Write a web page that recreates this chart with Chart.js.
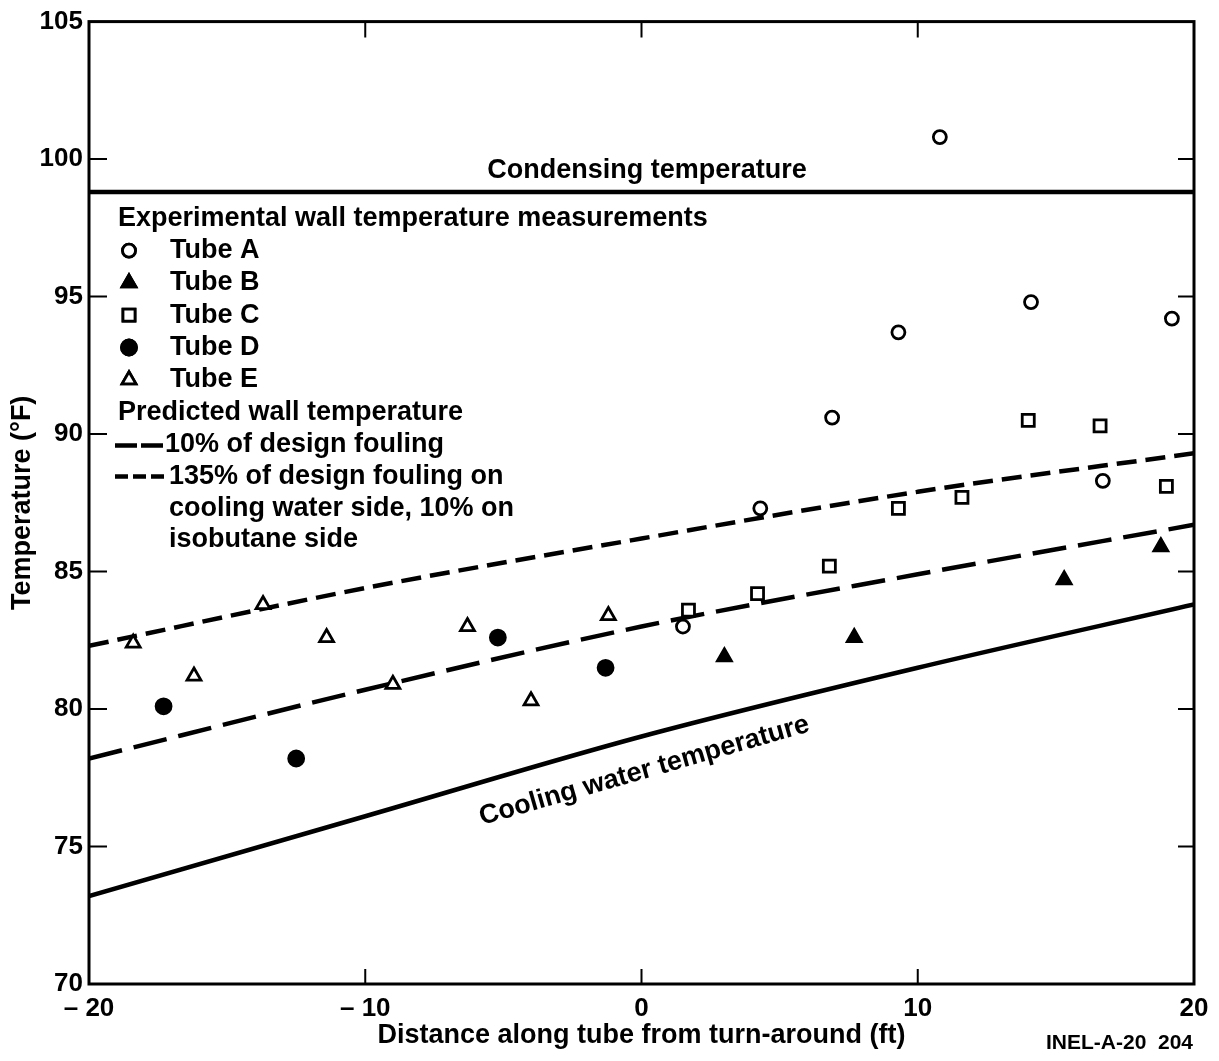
<!DOCTYPE html>
<html>
<head>
<meta charset="utf-8">
<script src="https://cdn.jsdelivr.net/npm/chart.js@4.4.1/dist/chart.umd.min.js"></script>
<style>
  html, body { margin: 0; background: #fff; }
  canvas { display: block; }
</style>
</head>
<body>
<canvas id="chart" width="1219" height="1061"></canvas>
<script>
// axis ticks
const xTicks = [-20, -10, 0, 10, 20];
const yTicks = [70, 75, 80, 85, 90, 95, 100, 105];

// measured wall temperatures, [distance ft, temperature F]
const tubeA = [[1.5, 83.0], [4.3, 87.3], [6.9, 90.6], [9.3, 93.7], [10.8, 100.8], [14.1, 94.8], [16.7, 88.3], [19.2, 94.2]];
const tubeB = [[3.0, 81.9], [7.7, 82.6], [15.3, 84.7], [18.8, 85.9]];
const tubeC = [[1.7, 83.6], [4.2, 84.2], [6.8, 85.2], [9.3, 87.3], [11.6, 87.7], [14.0, 90.5], [16.6, 90.3], [19.0, 88.1]];
const tubeD = [[-17.3, 80.1], [-12.5, 78.2], [-5.2, 82.6], [-1.3, 81.5]];
const tubeE = [[-18.4, 82.4], [-16.2, 81.2], [-13.7, 83.8], [-11.4, 82.6], [-9.0, 80.9], [-6.3, 83.0], [-4.0, 80.3], [-1.2, 83.4]];

// curves
const curveX = [-20, -10, 0, 10, 20];
const condensing = [98.8, 98.8, 98.8, 98.8, 98.8];
const fouling10 = [78.2, 80.7, 83.0, 84.9, 86.7];
const fouling135 = [82.3, 84.4, 86.2, 87.9, 89.3];
const coolingWater = [73.2, 76.1, 79.0, 81.5, 83.8];

const FONT = 'Liberation Sans, Arial, sans-serif';
const pts = arr => arr.map(p => ({ x: p[0], y: p[1] }));
const curve = ys => curveX.map((x, i) => ({ x, y: ys[i] }));
const minus = v => v < 0 ? '\u2013 ' + Math.abs(v) : String(v);

function markerSet(label, data, style, filled, radius) {
  return {
    label, data: pts(data), pointStyle: style, pointRadius: radius,
    pointBorderWidth: 2.8, pointBorderColor: '#000',
    pointBackgroundColor: filled ? '#000' : '#fff', showLine: false
  };
}

function curveSet(label, ys, dash) {
  return {
    label, data: curve(ys), showLine: true, pointRadius: 0,
    borderColor: '#000', borderWidth: 4.5, borderDash: dash, borderCapStyle: 'butt',
    cubicInterpolationMode: 'monotone', fill: false
  };
}

const paperPlugin = {
  id: 'paper',
  afterDatasetsDraw(chart) {
    const { ctx, chartArea: a, scales: { x, y } } = chart;
    ctx.save();
    ctx.strokeStyle = '#000';
    ctx.fillStyle = '#000';

    // frame + inward ticks
    ctx.lineWidth = 3;
    ctx.strokeRect(a.left, a.top, a.right - a.left, a.bottom - a.top);
    ctx.lineWidth = 2;
    ctx.beginPath();
    xTicks.slice(1, -1).forEach(v => {
      const px = x.getPixelForValue(v);
      ctx.moveTo(px, a.bottom); ctx.lineTo(px, a.bottom - 15);
      ctx.moveTo(px, a.top); ctx.lineTo(px, a.top + 16);
    });
    yTicks.slice(1, -1).forEach(v => {
      const py = y.getPixelForValue(v);
      ctx.moveTo(a.left, py); ctx.lineTo(a.left + 18, py);
      ctx.moveTo(a.right, py); ctx.lineTo(a.right - 16, py);
    });
    ctx.stroke();

    ctx.font = 'bold 27px ' + FONT;
    ctx.textBaseline = 'middle';
    ctx.textAlign = 'center';
    ctx.fillText('Condensing temperature', x.getPixelForValue(0.2), a.top + 149);

    // cooling water label along the curve
    const p0 = { x: x.getPixelForValue(-2), y: y.getPixelForValue(78.5) };
    const p1 = { x: x.getPixelForValue(2), y: y.getPixelForValue(79.65) };
    const ang = Math.atan2(p1.y - p0.y, p1.x - p0.x);
    ctx.save();
    ctx.translate(x.getPixelForValue(0.1), y.getPixelForValue(77.75));
    ctx.rotate(ang);
    ctx.fillText('Cooling water temperature', 0, 0);
    ctx.restore();

    // legend block
    ctx.textAlign = 'left';
    const lx = a.left + 29;
    ctx.fillText('Experimental wall temperature measurements', lx, a.top + 197);
    const rows = [['Tube A', 'circle', false, 6.5], ['Tube B', 'triangle', true, 8],
                  ['Tube C', 'rect', false, 8.5], ['Tube D', 'circle', true, 7.5], ['Tube E', 'triangle', false, 8]];
    rows.forEach((r, i) => {
      const cy = a.top + 229 + i * 32.3;
      ctx.lineWidth = 2.8;
      ctx.fillStyle = r[2] ? '#000' : '#fff';
      Chart.helpers.drawPoint(ctx, { pointStyle: r[1], radius: r[3], borderWidth: 2.8 }, lx + 11, cy);
      ctx.fill(); ctx.stroke();
      ctx.fillStyle = '#000';
      ctx.fillText(r[0], lx + 52, cy);
    });
    ctx.fillText('Predicted wall temperature', lx, a.top + 391);
    ctx.lineWidth = 4.5;
    ctx.setLineDash([22, 4]);
    ctx.beginPath(); ctx.moveTo(lx - 3, a.top + 424); ctx.lineTo(lx + 47, a.top + 424); ctx.stroke();
    ctx.setLineDash([13, 5]);
    ctx.beginPath(); ctx.moveTo(lx - 3, a.top + 455); ctx.lineTo(lx + 51, a.top + 455); ctx.stroke();
    ctx.setLineDash([]);
    ctx.fillText('10% of design fouling', lx + 47, a.top + 423);
    ctx.fillText('135% of design fouling on', lx + 51, a.top + 455);
    ctx.fillText('cooling water side, 10% on', lx + 51, a.top + 487);
    ctx.fillText('isobutane side', lx + 51, a.top + 518);

    ctx.font = 'bold 21px ' + FONT;
    ctx.fillText('INEL-A-20  204', 1046, 1043);
    ctx.restore();
  }
};

new Chart(document.getElementById('chart'), {
  type: 'scatter',
  data: {
    datasets: [
      markerSet('Tube A', tubeA, 'circle', false, 6.5),
      markerSet('Tube B', tubeB, 'triangle', true, 8),
      markerSet('Tube C', tubeC, 'rect', false, 8.5),
      markerSet('Tube D', tubeD, 'circle', true, 7.5),
      markerSet('Tube E', tubeE, 'triangle', false, 8),
      curveSet('Condensing temperature', condensing, []),
      curveSet('10% of design fouling', fouling10, [34, 12]),
      curveSet('135% of design fouling', fouling135, [20, 9]),
      curveSet('Cooling water temperature', coolingWater, [])
    ]
  },
  options: {
    responsive: false,
    animation: false,
    layout: { padding: { top: 19, right: 25, left: 0, bottom: 0 } },
    plugins: { legend: { display: false }, tooltip: { enabled: false } },
    scales: {
      x: {
        type: 'linear', min: -20, max: 20,
        afterFit: s => { s.height = 77; },
        afterBuildTicks: s => { s.ticks = xTicks.map(v => ({ value: v })); },
        grid: { display: false, drawTicks: false },
        border: { display: false },
        ticks: { color: '#000', padding: 9, maxRotation: 0, font: { family: FONT, size: 26, weight: 'bold' }, callback: v => minus(v) },
        title: { display: true, text: 'Distance along tube from turn-around (ft)', color: '#000',
                 padding: { top: 0, bottom: 9 }, font: { family: FONT, size: 27, weight: 'bold' } }
      },
      y: {
        type: 'linear', min: 70, max: 105,
        afterFit: s => { s.width = 89; },
        afterBuildTicks: s => { s.ticks = yTicks.map(v => ({ value: v })); },
        grid: { display: false, drawTicks: false },
        border: { display: false },
        ticks: { color: '#000', padding: 6, font: { family: FONT, size: 26, weight: 'bold' } },
        title: { display: true, text: 'Temperature (°F)', color: '#000',
                 padding: { top: 6, bottom: 0 }, font: { family: FONT, size: 27, weight: 'bold' } }
      }
    }
  },
  plugins: [paperPlugin]
});
</script>
</body>
</html>
